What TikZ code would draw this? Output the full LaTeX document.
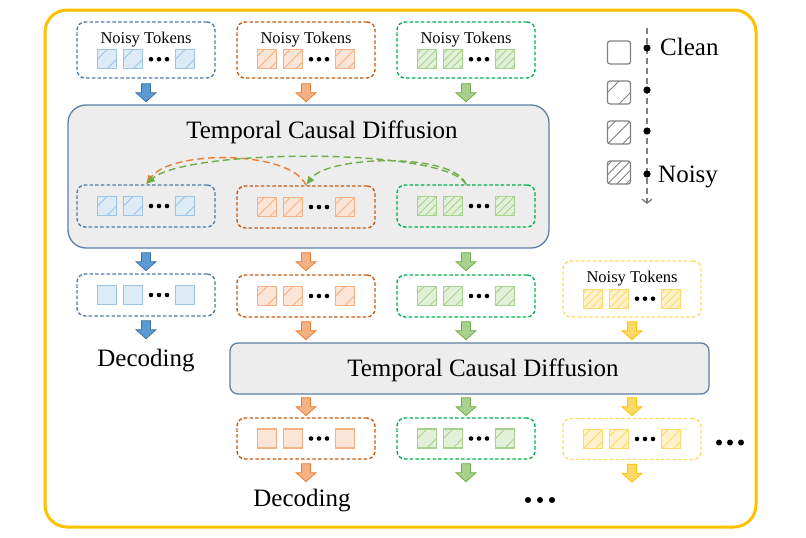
\documentclass[tikz,border=0pt]{standalone}
\usepackage{fontspec}
\setmainfont{Liberation Serif}
\usetikzlibrary{arrows.meta,calc}
\definecolor{frameY}{HTML}{FFC000}
\definecolor{bBox}{HTML}{4F7BAA}
\definecolor{oBox}{HTML}{C55A11}
\definecolor{gBox}{HTML}{00B050}
\definecolor{yBox}{HTML}{FFD966}
\definecolor{bFill}{HTML}{DDEBF7}
\definecolor{bLine}{HTML}{9DC3E6}
\definecolor{oFill}{HTML}{FBE5D6}
\definecolor{oLine}{HTML}{F4B183}
\definecolor{gFill}{HTML}{E2F0D9}
\definecolor{gLine}{HTML}{A9D18E}
\definecolor{yFill}{HTML}{FFF2CC}
\definecolor{yLine}{HTML}{FFD966}
\definecolor{bArrF}{HTML}{5B9BD5}
\definecolor{bArrD}{HTML}{41719C}
\definecolor{oArrF}{HTML}{F4B183}
\definecolor{oArrD}{HTML}{ED7D31}
\definecolor{gArrF}{HTML}{A9D18E}
\definecolor{gArrD}{HTML}{70AD47}
\definecolor{yArrF}{HTML}{FFD966}
\definecolor{yArrD}{HTML}{FFC000}
\definecolor{grayFill}{HTML}{EDEDED}
\definecolor{grayEdge}{HTML}{5E7FA6}
\definecolor{legG}{HTML}{808080}
\definecolor{arcO}{HTML}{ED7D31}
\definecolor{arcG}{HTML}{70AD47}

\def\ts{19}
\newcommand\hl[1]{\draw ({#1+30},-30) -- (-30,{#1+30});}
\newcommand\tok[4]{%
  \begin{scope}[shift={(#1,-\ts/2)}]
    \fill[#2,tokframe] (0,0) rectangle (\ts,\ts);
    \begin{scope}
      \clip[tokframe] (0,0) rectangle (\ts,\ts);
      \begin{scope}[color=#3,line width=0.9]
        \ifcase#4\relax
        \or \hl{0.5*\ts}\hl{1.5*\ts}%
        \or \hl{0.35*\ts}\hl{\ts}\hl{1.65*\ts}%
        \or \hl{0.2*\ts}\hl{0.6*\ts}\hl{\ts}\hl{1.4*\ts}\hl{1.8*\ts}%
        \fi
      \end{scope}
    \end{scope}
    \draw[#3,line width=1.2,tokframe] (0,0) rectangle (\ts,\ts);
  \end{scope}}
\newcommand\tokrow[4]{%
  \begin{scope}[shift={(#1)}]
    \tok{-48.5}{#2}{#3}{#4}
    \tok{-22.5}{#2}{#3}{#4}
    \tok{29.5}{#2}{#3}{#4}
    \fill (5,0) circle (2.3) (13,0) circle (2.3) (21,0) circle (2.3);
  \end{scope}}

\begin{document}
\begin{tikzpicture}[x=1pt,y=-1pt,
  tokframe/.style={},
  tbox/.style={rounded corners=8,line width=1.4,dash pattern=on 3.5pt off 2.2pt,minimum width=138,minimum height=42,inner sep=0},
  gbox/.style={draw=grayEdge,fill=grayFill,line width=1.3,inner sep=0},
  ntxt/.style={font=\fontsize{16.5}{18}\selectfont,inner sep=0,anchor=base},
  btxt/.style={font=\fontsize{25}{28}\selectfont,inner sep=0,anchor=base},
  oarc/.style={draw=arcO,line width=1.4,dash pattern=on 7pt off 4pt,-{Latex[length=9pt,width=8pt]}},
  garc/.style={draw=arcG,line width=1.4,dash pattern=on 7pt off 4pt,-{Latex[length=9pt,width=8pt]}},
  pics/barrow/.style 2 args={code={\filldraw[fill=#1,draw=#2,line width=0.8] (-4.5,0) -- (4.5,0) -- (4.5,9) -- (10,9) -- (0,18) -- (-10,9) -- (-4.5,9) -- cycle;}},
]
\useasboundingbox (0,0) rectangle (806,538);
\draw[frameY,line width=3,rounded corners=22] (45,10) rectangle (756,527);

% ---------- top noisy tokens
\node[tbox,draw=bBox,minimum height=56] (nb1) at (146,50) {};
\node[tbox,draw=oBox,minimum height=56] (no1) at (306,50) {};
\node[tbox,draw=gBox,minimum height=56] (ng1) at (466,50) {};
\node[ntxt] (nb1t) at (146,43) {Noisy Tokens};
\node[ntxt] (no1t) at (306,43) {Noisy Tokens};
\node[ntxt] (ng1t) at (466,43) {Noisy Tokens};
\coordinate (rnb1) at ($(nb1.south)+(0,-19.5)$);
\coordinate (rno1) at ($(no1.south)+(0,-19.5)$);
\coordinate (rng1) at ($(ng1.south)+(0,-19.5)$);
\tokrow{rnb1}{bFill}{bLine}{1}
\tokrow{rno1}{oFill}{oLine}{2}
\tokrow{rng1}{gFill}{gLine}{3}

% ---------- first diffusion block
\node[gbox,rounded corners=18,minimum width=481,minimum height=143] (gd1) at (308.5,176.5) {};
\node[btxt] (gd1t) at (322,138) {Temporal Causal Diffusion};
\pic at ($(nb1.south)+(0,5)$) {barrow={bArrF}{bArrD}};
\pic at ($(no1.south)+(0,5)$) {barrow={oArrF}{oArrD}};
\pic at ($(ng1.south)+(0,5)$) {barrow={gArrF}{gArrD}};

\node[tbox,draw=bBox] (ib) at (146,206) {};
\node[tbox,draw=oBox] (io) at (306,207) {};
\node[tbox,draw=gBox] (ig) at (466,206) {};
\tokrow{ib}{bFill}{bLine}{1}
\tokrow{io}{oFill}{oLine}{2}
\tokrow{ig}{gFill}{gLine}{3}

\draw[oarc] (io.north) .. controls +(-15,-35) and +(25,-35) .. (ib.north);
\draw[garc] (ig.north) .. controls +(-20,-37) and +(40,-36) .. (ib.north);
\draw[garc] (ig.north) .. controls +(-12,-32) and +(22,-30) .. (io.north);

% ---------- second row
\pic at ($(ib.south |- gd1.south)+(0,4)$) {barrow={bArrF}{bArrD}};
\pic at ($(io.south |- gd1.south)+(0,4)$) {barrow={oArrF}{oArrD}};
\pic at ($(ig.south |- gd1.south)+(0,4)$) {barrow={gArrF}{gArrD}};
\node[tbox,draw=bBox] (sb) at (146,295) {};
\node[tbox,draw=oBox] (so) at (306,296) {};
\node[tbox,draw=gBox] (sg) at (466,296) {};
\node[tbox,draw=yBox,minimum height=56] (ny) at (632,289) {};
\node[ntxt] (nyt) at (632,282) {Noisy Tokens};
\coordinate (rny) at ($(ny.south)+(0,-19)$);
\tokrow{sb}{bFill}{bLine}{0}
\tokrow{so}{oFill}{oLine}{1}
\tokrow{sg}{gFill}{gLine}{2}
\tokrow{rny}{yFill}{yLine}{3}

\pic at ($(sb.south)+(0,4)$) {barrow={bArrF}{bArrD}};
\pic at ($(so.south)+(0,4)$) {barrow={oArrF}{oArrD}};
\pic at ($(sg.south)+(0,4)$) {barrow={gArrF}{gArrD}};
\pic at ($(ny.south)+(0,4)$) {barrow={yArrF}{yArrD}};
\node[btxt] (dec1) at (146,366) {Decoding};

% ---------- second diffusion block
\node[gbox,rounded corners=8,minimum width=479,minimum height=51] (gd2) at (469.5,368.5) {};
\node[btxt] (gd2t) at (483,376) {Temporal Causal Diffusion};

\pic at ($(so.south |- gd2.south)+(0,3)$) {barrow={oArrF}{oArrD}};
\pic at ($(sg.south |- gd2.south)+(0,3)$) {barrow={gArrF}{gArrD}};
\pic at ($(ny.south |- gd2.south)+(0,3)$) {barrow={yArrF}{yArrD}};

\node[tbox,draw=oBox,minimum height=41] (to) at (306,438.5) {};
\node[tbox,draw=gBox,minimum height=41] (tg) at (466,438.5) {};
\node[tbox,draw=yBox,minimum height=41] (ty) at (632,439) {};
\tokrow{to}{oFill}{oLine}{0}
\tokrow{tg}{gFill}{gLine}{1}
\tokrow{ty}{yFill}{yLine}{2}
\fill (719,442.5) circle (3) (730,442.5) circle (3) (741,442.5) circle (3);

\pic at ($(to.south)+(0,4)$) {barrow={oArrF}{oArrD}};
\pic at ($(tg.south)+(0,4)$) {barrow={gArrF}{gArrD}};
\pic at ($(ty.south)+(0,4)$) {barrow={yArrF}{yArrD}};
\node[btxt] (dec2) at (302,506) {Decoding};
\fill (528,500) circle (3) (540,500) circle (3) (552,500) circle (3);

% ---------- legend
\begin{scope}[tokframe/.style={rounded corners=2.5}]
  \def\ts{23}
  \begin{scope}[shift={(607.5,52.5)}]\tok{0}{white}{legG}{0}\end{scope}
  \begin{scope}[shift={(607.5,92.5)}]\tok{0}{white}{legG}{1}\end{scope}
  \begin{scope}[shift={(607.5,132.5)}]\tok{0}{white}{legG}{2}\end{scope}
  \begin{scope}[shift={(607.5,172.5)}]\tok{0}{white}{legG}{3}\end{scope}
\end{scope}
\coordinate (lt) at (647,28);
\coordinate (lb) at (647,204);
\draw[legG,line width=1.4,dash pattern=on 6pt off 4pt,-{Straight Barb[length=4pt,width=10pt]}] (lt) -- (lb);
\fill (647,48) circle (3.6) (647,90) circle (3.6) (647,131) circle (3.6) (647,174) circle (3.6);
\node[btxt,anchor=base west] (lclean) at (660,55) {Clean};
\node[btxt,anchor=base west] (lnoisy) at (658,182) {Noisy};
\end{tikzpicture}
\end{document}
